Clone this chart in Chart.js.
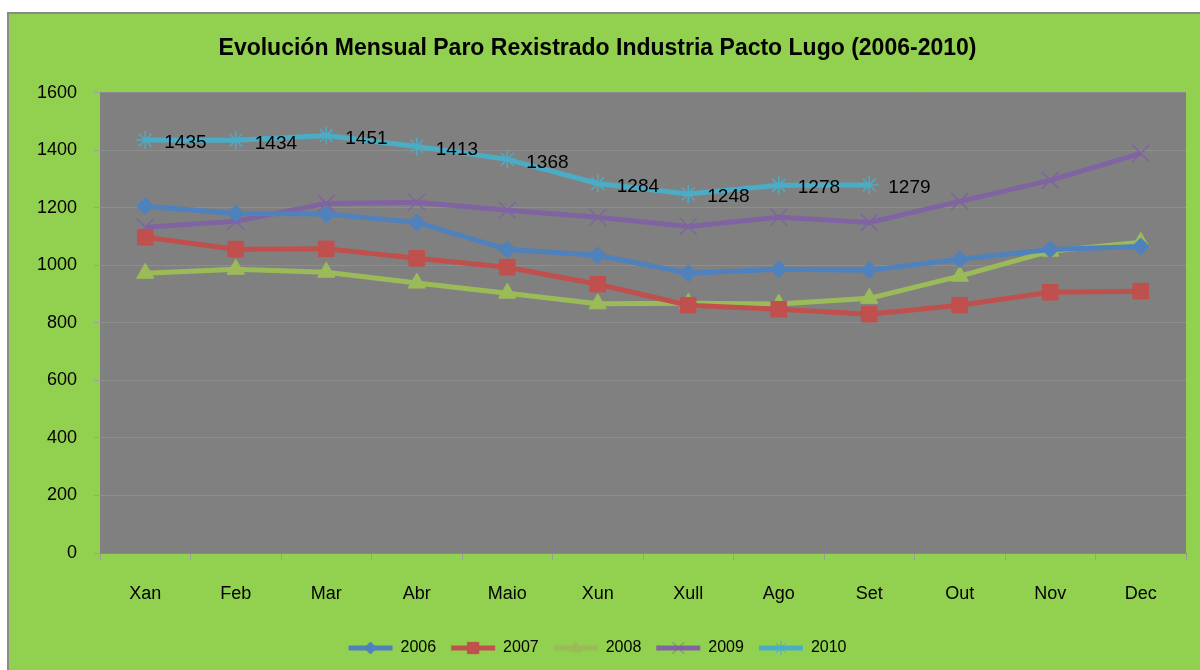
<!DOCTYPE html>
<html>
<head>
<meta charset="utf-8">
<script src="https://cdn.jsdelivr.net/npm/chart.js@4"></script>
<style>
  body { margin: 0; background: #fff; }
  #wrap {
    position: absolute; left: 7px; top: 12px;
    width: 1200px; height: 670px;
    border: 2px solid #8a8a8a;
    background: #92d050;
  }
  canvas { display: block; }
</style>
</head>
<body>
<div id="wrap"><canvas id="chart" width="1191" height="656"></canvas></div>
<script>
const months = ["Xan", "Feb", "Mar", "Abr", "Maio", "Xun", "Xull", "Ago", "Set", "Out", "Nov", "Dec"];
const years = ["2006", "2007", "2008", "2009", "2010"];

const y2006 = [1205, 1180, 1178, 1149, 1055, 1035, 972, 986, 983, 1021, 1055, 1065];
const y2007 = [1097, 1056, 1057, 1024, 993, 934, 861, 847, 830, 861, 906, 910];
const y2008 = [972, 986, 976, 938, 903, 866, 868, 865, 885, 962, 1049, 1080];
const y2009 = [1132, 1153, 1215, 1219, 1191, 1167, 1135, 1167, 1149, 1222, 1295, 1389];
const y2010 = [1435, 1434, 1451, 1413, 1368, 1284, 1248, 1278, 1279];

const colors = ["#4f81bd", "#c0504d", "#9bbb59", "#8064a2", "#4bacc6"];
const markers = ["rectRot", "rect", "triangle", "crossRot", "star"];
const markerSize = [8.5, 11, 10, 12, 9];
const legendMarkerSize = [6, 8, 7, 8, 7];

const FONT = "'Liberation Sans', Arial, sans-serif";

/* ===== helpers ===== */

function makeSet(i, data) {
  const thin = markers[i] === "crossRot" || markers[i] === "star";
  return {
    label: years[i],
    data: data,
    borderColor: colors[i],
    backgroundColor: colors[i],
    borderWidth: 5,
    pointStyle: markers[i],
    pointRadius: markerSize[i],
    pointHoverRadius: markerSize[i],
    pointBorderWidth: thin ? 1.5 : 1,
    pointBackgroundColor: colors[i],
    pointBorderColor: colors[i],
    tension: 0
  };
}

// gray plot area
const plotBg = {
  id: "plotBg",
  beforeDraw(chart) {
    const a = chart.chartArea;
    const ctx = chart.ctx;
    ctx.save();
    ctx.fillStyle = "#808080";
    ctx.fillRect(a.left, a.top, a.right - a.left, a.bottom - a.top);
    ctx.restore();
  }
};

// value labels on 2010 series
const valueLabels = {
  id: "valueLabels",
  afterDatasetsDraw(chart) {
    const ctx = chart.ctx;
    const meta = chart.getDatasetMeta(4);
    ctx.save();
    ctx.font = "19px " + FONT;
    ctx.fillStyle = "#000";
    ctx.textBaseline = "middle";
    ctx.textAlign = "left";
    meta.data.forEach((pt, i) => {
      ctx.fillText(String(y2010[i]), pt.x + 19, pt.y + 3);
    });
    ctx.restore();
  }
};

// markers over the legend line boxes
const legendMarkers = {
  id: "legendMarkers",
  afterDraw(chart) {
    const lg = chart.legend;
    if (!lg || !lg.legendHitBoxes) return;
    const ctx = chart.ctx;
    const bw = lg.options.labels.boxWidth;
    lg.legendHitBoxes.forEach((hb, i) => {
      const cx = hb.left + bw / 2;
      const cy = hb.top + hb.height / 2;
      ctx.save();
      ctx.fillStyle = colors[i];
      ctx.strokeStyle = colors[i];
      Chart.helpers.drawPoint(ctx, {
        pointStyle: markers[i],
        radius: legendMarkerSize[i],
        borderWidth: i >= 3 ? 1.5 : 1,
        rotation: 0
      }, cx, cy);
      ctx.restore();
    });
  }
};

/* ===== chart ===== */

new Chart(document.getElementById("chart"), {
  type: "line",
  data: {
    labels: months,
    datasets: [
      makeSet(0, y2006),
      makeSet(1, y2007),
      makeSet(2, y2008),
      makeSet(3, y2009),
      makeSet(4, y2010)
    ]
  },
  options: {
    responsive: false,
    animation: false,
    layout: { padding: { left: 0, right: 14, top: 0, bottom: 4 } },
    plugins: {
      title: {
        display: true,
        text: "Evolución Mensual Paro Rexistrado Industria Pacto Lugo (2006-2010)",
        color: "#000",
        font: { family: FONT, size: 23, weight: "bold" },
        padding: { top: 21, bottom: 30 }
      },
      legend: {
        position: "bottom",
        labels: {
          color: "#000",
          boxWidth: 44,
          boxHeight: 5,
          padding: 15,
          font: { family: FONT, size: 16 },
          generateLabels(chart) {
            const items = Chart.defaults.plugins.legend.labels.generateLabels(chart);
            items.forEach((it, i) => {
              it.lineWidth = 0;
              it.fillStyle = colors[i];
              it.strokeStyle = colors[i];
            });
            return items;
          }
        }
      },
      tooltip: { enabled: false }
    },
    scales: {
      x: {
        offset: true,
        grid: {
          offset: true,
          drawOnChartArea: false,
          tickLength: 7,
          tickColor: "#9a9a9a",
          color: "#9a9a9a"
        },
        border: { color: "#8a8a8a", width: 1 },
        ticks: {
          color: "#000",
          padding: 23,
          font: { family: FONT, size: 18 }
        },
        afterFit(scale) { scale.height = 72; }
      },
      y: {
        min: 0,
        max: 1600,
        ticks: {
          stepSize: 200,
          color: "#000",
          padding: 17,
          font: { family: FONT, size: 18 },
          callback: (v) => String(v)
        },
        grid: {
          color: "#8e8e8e",
          tickColor: "#a0a0a0",
          tickLength: 6,
          lineWidth: 1
        },
        border: { display: false },
        afterFit(scale) { scale.width = 91; }
      }
    }
  },
  plugins: [plotBg, valueLabels, legendMarkers]
});
</script>
</body>
</html>
